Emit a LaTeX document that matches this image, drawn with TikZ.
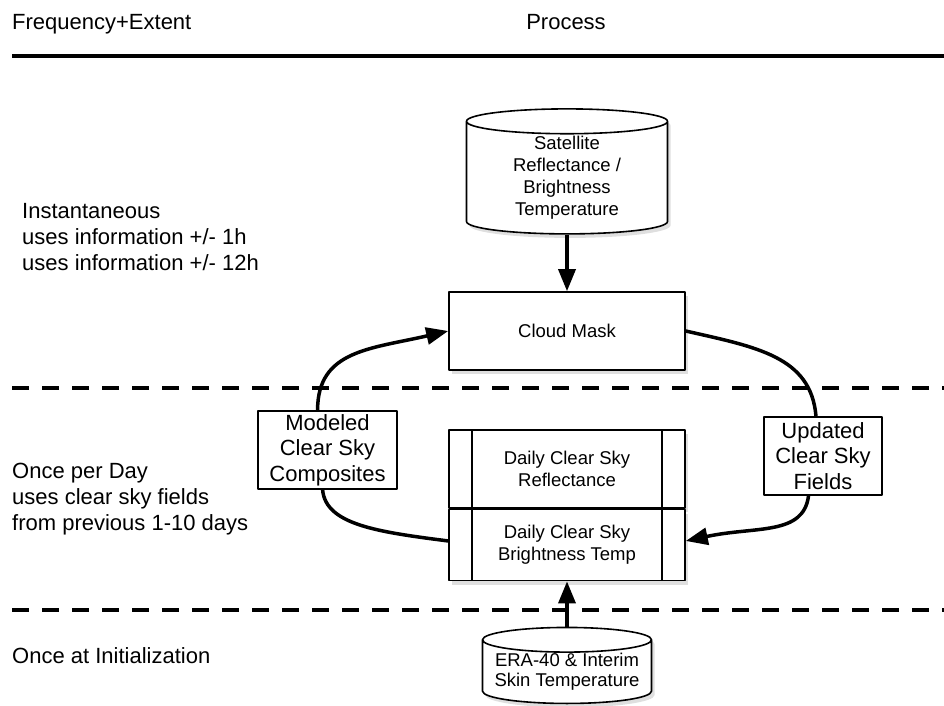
\documentclass[tikz,border=0pt]{standalone}
\usepackage{fontspec}
\setmainfont{Liberation Sans}
\usetikzlibrary{arrows.meta,shapes.geometric,shadows,calc,positioning}

\begin{document}
\begin{tikzpicture}[x=1pt,y=-1pt,line join=round,
                    >={Triangle[length=22pt,width=17pt]}]
        \tikzstyle{box}=[draw,line width=1.6pt,fill=white,align=center,inner sep=0pt,
                         font=\fontsize{18.5}{22}\selectfont,
                         drop shadow={opacity=0.25,shadow xshift=3pt,shadow yshift=-4pt}]
        \tikzstyle{store}=[box,cylinder,shape border rotate=90,aspect=0.23]
        \tikzstyle{tag}=[draw,line width=1.6pt,fill=white,align=center,inner sep=0pt,
                         font=\fontsize{22}{25.5}\selectfont]
        \tikzstyle{txt}=[anchor=west,align=left,inner sep=0pt,
                         font=\fontsize{22}{26}\selectfont]
        \tikzstyle{flow}=[line width=3.5pt]
        \tikzstyle{band}=[line width=4pt,dash pattern=on 17pt off 13pt]

        \useasboundingbox (0,0) rectangle (944,705);

        % headings and bands
        \node[txt,anchor=base west] (hFreq) at (12,29)  {Frequency+Extent};
        \node[txt,anchor=base]      (hProc) at (566,29) {Process};
        \draw[line width=4pt] (12,56) -- (944,56);
        \draw[band] (12,388) -- (944,388);
        \draw[band] (12,610) -- (944,610);

        \node[txt]    (fInst) at (22,237)  {Instantaneous\\uses information +/- 1h\\uses information +/- 12h};
        \node[txt]    (fDay)  at (12,499)  {Once per Day\\uses clear sky fields\\from previous 1-10 days};
        \node[txt]    (fInit) at (12,656)  {Once at Initialization};

        % process
        \node[store,minimum width=201pt,minimum height=125pt] (sat) at (567,178)
              {Satellite\\Reflectance /\\Brightness\\Temperature};
        \node[box,minimum width=236pt,minimum height=78pt] (mask) at (567,331) {Cloud Mask};
        \node[box,minimum width=236pt,minimum height=78pt] (dcsR) at (567,469)
              {Daily Clear Sky\\Reflectance};
        \node[box,minimum width=236pt,minimum height=71pt,below=0pt of dcsR] (dcsB)
              {Daily Clear Sky\\Brightness Temp};
        \draw[line width=1.6pt] ($(dcsR.north west)+(24,0)$) -- ($(dcsB.south west)+(24,0)$);
        \draw[line width=1.6pt] ($(dcsR.north east)+(-24,0)$) -- ($(dcsB.south east)+(-24,0)$);
        \node[store,aspect=0.17,minimum width=169pt,minimum height=76pt,
              font=\fontsize{18.5}{20}\selectfont] (era) at (567,672)
              {ERA-40 \& Interim\\Skin Temperature};
        \node[tag,minimum width=139pt,minimum height=78pt] (mod) at (327.5,450)
              {Modeled\\Clear Sky\\Composites};
        \node[tag,minimum width=118pt,minimum height=78pt] (upd) at (823,456)
              {Updated\\Clear Sky\\Fields};

        \path[->,flow]
                  (sat)  edge (mask)
                  (era)  edge (dcsB);
        \draw[->,flow] (mod.104) .. controls +(0,-60) and +(-78,18) .. (mask.west);
        \draw[flow]    (mod.263) .. controls +(3,35) and +(-70,-9) .. (dcsB.178);
        \draw[flow]    (mask.east) .. controls +(70,16) and +(-5,-60) .. (upd.100);
        \draw[->,flow] (upd.250) .. controls +(-5,40) and +(70,-15) .. (dcsB.2);
\end{tikzpicture}
\end{document}
